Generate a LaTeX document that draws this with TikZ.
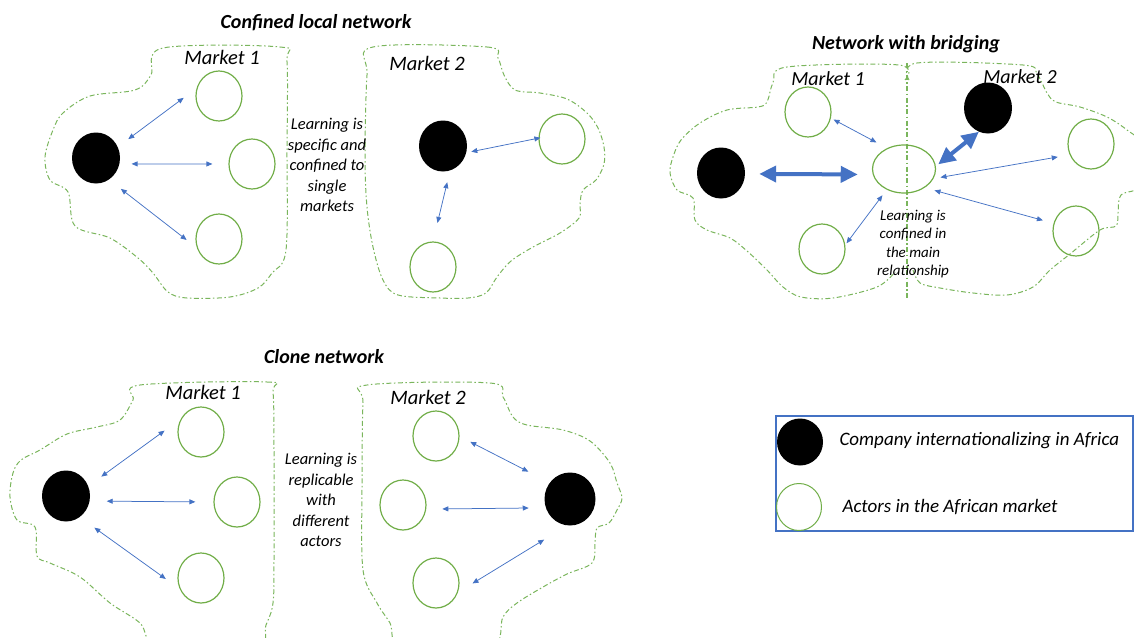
\documentclass[tikz,border=0pt]{standalone}
\usepackage{fontspec}
\setmainfont{Carlito}
\usepackage{tikz}
\usetikzlibrary{arrows.meta}
\usetikzlibrary{shapes.geometric}

\definecolor{actorgreen}{HTML}{70AD47}
\definecolor{marketgreen}{HTML}{7AB55C}
\definecolor{linkblue}{HTML}{4472C4}

\begin{document}
\begin{tikzpicture}[x=1pt, y=-1pt,
        >={Triangle[length=6pt,width=5pt]},
        company/.style={ellipse, fill=black, inner sep=0pt, minimum width=48pt, minimum height=51pt},
        actor/.style={ellipse, draw=actorgreen, line width=1.2pt, inner sep=0pt, minimum width=46pt, minimum height=50pt},
        link/.style={<->, draw=linkblue, line width=0.75pt},
        strong link/.style={{Triangle[length=17pt,width=16pt]}-{Triangle[length=17pt,width=16pt]}, draw=linkblue, line width=4pt},
        market/.style={draw=marketgreen, line width=1pt, dash pattern=on 5pt off 2.5pt on 1.5pt off 2.5pt},
        heading/.style={font=\fontsize{20}{24}\selectfont\bfseries\itshape},
        marketname/.style={font=\fontsize{20.5}{24}\selectfont\itshape},
        remark/.style={align=center, font=\fontsize{16.5}{20.5}\selectfont\itshape},
        legendtext/.style={anchor=west, font=\fontsize{19}{22}\selectfont\itshape}]

  \useasboundingbox (0,0) rectangle (1134,637);

  % confined local network
  \node[heading] (t_conf) at (316,23) {Confined local network};
  \draw[market] plot[smooth cycle, tension=0.55] coordinates {(163,48) (280,47) (287,62) (287,150) (286,250) (272,273) (258,288) (230,297) (187,298) (168,292) (153,273) (138,258) (110,238) (75,226) (68,192) (50,180) (45,157) (53,130) (63,113) (90,96) (135,90) (151,75)};
  \draw[market] plot[smooth cycle, tension=0.55] coordinates {(373,47) (487,47) (498,58) (504,75) (515,90) (540,93) (567,99) (587,113) (598,128) (604,147) (604,164) (596,180) (583,190) (580,204) (579,218) (560,233) (533,247) (511,261) (497,277) (486,293) (468,298) (440,298) (398,295) (383,280) (373,247) (367,207) (365,157) (367,75)};
  \node[marketname] (m_conf1) at (222,57) {Market 1};
  \node[marketname] (m_conf2) at (427,63) {Market 2};

  \node[company] (ca) at (96,158) {};
  \node[actor] (ca1) at (219,96) {};
  \node[actor] (ca2) at (252,164) {};
  \node[actor] (ca3) at (219,239) {};
  \node[company] (cb) at (443,146) {};
  \node[actor] (cb1) at (562,139) {};
  \node[actor] (cb2) at (433,267) {};

  \path
  (ca.27) edge[link, shorten <=13pt, shorten >=16pt] (ca1.161)
  (ca.-14) edge[link, shorten <=12pt, shorten >=16pt] (ca2.west)
  (ca.-59) edge[link, shorten <=15pt, shorten >=13pt] (ca3.-158)
  (cb.-16) edge[link, shorten <=5pt, shorten >=-2pt] (cb1.178)
  (cb.-74) edge[link, shorten <=12pt, shorten >=19pt] (cb2.north);

  \node[remark] (r_conf) at (327,165) {Learning is\\specific and\\confined to\\single\\markets};

  % network with bridging
  \node[heading] (t_brid) at (906,44) {Network with bridging};
  \draw[market] plot[smooth, tension=0.55] coordinates {(905,80) (899,65) (787,67) (773,83) (767,102) (758,107) (727,110) (700,123) (681,140) (673,157) (670,173) (677,190) (693,198) (695,220) (707,230) (730,238) (747,251) (767,270) (783,287) (801,297) (833,298) (877,287) (895,272)};
  \draw[market] plot[smooth, tension=0.55] coordinates {(909,80) (917,63) (1023,65) (1037,74) (1047,93) (1056,102) (1080,107) (1107,117) (1127,130) (1142,145) (1142,185) (1121,195) (1118,213) (1116,226) (1100,230) (1070,254) (1050,270) (1033,287) (1007,295) (973,293) (940,288) (920,283) (913,270)};
  \draw[market, line width=1.5pt] (907,63) -- (907,298);
  \node[marketname, font=\fontsize{20}{24}\selectfont\itshape] (m_brid1) at (828,79) {Market 1};
  \node[marketname, font=\fontsize{20}{24}\selectfont\itshape] (m_brid2) at (1020,77) {Market 2};

  \node[company] (bc1) at (721,173) {};
  \node[company] (bc2) at (988,108) {};
  \node[actor, minimum width=63pt, minimum height=48pt] (bm) at (904,169) {};
  \node[actor] (ba1) at (808,112) {};
  \node[actor] (ba2) at (822,249) {};
  \node[actor] (ba3) at (1091,144) {};
  \node[actor] (ba4) at (1076,231) {};

  \path
  (bc1.-2) edge[strong link, shorten <=14pt, shorten >=15pt] (bm.190)
  (bm.5) edge[strong link, shorten <=3pt] (bc2.-111)
  (ba1.-15) edge[link, shorten <=3pt, shorten >=12pt] (bm.129)
  (ba2.10) edge[link, shorten <=2pt, shorten >=7pt] (bm.-130)
  (bm.-18) edge[link, shorten <=7pt, shorten >=12pt] (ba3.-153)
  (bm.-42) edge[link, shorten <=10pt, shorten >=11pt] (ba4.161);

  \node[remark, font=\fontsize{15}{18.3}\selectfont\itshape] (r_brid) at (913,244) {Learning is\\confined in\\the main\\relationship};

  % clone network
  \node[heading] (t_clone) at (324,357) {Clone network};
  \draw[market] plot[smooth cycle, tension=0.55] coordinates {(140,385) (267,382) (273,392) (274,450) (274,560) (273,603) (266,625) (255,648) (160,648) (140,623) (110,603) (80,577) (50,563) (37,556) (35,527) (17,520) (10,497) (13,473) (21,460) (40,450) (67,434) (97,427) (120,420) (133,400)};
  \draw[market] plot[smooth cycle, tension=0.55] coordinates {(367,385) (490,383) (503,397) (513,417) (527,425) (563,430) (590,441) (610,463) (617,483) (622,498) (617,510) (609,523) (597,528) (595,543) (592,563) (567,574) (543,587) (517,603) (503,617) (490,648) (403,648) (390,623) (377,603) (363,570) (362,487) (363,403)};
  \node[marketname] (m_clone1) at (203,392) {Market 1};
  \node[marketname] (m_clone2) at (428,397) {Market 2};

  \node[company] (na) at (66,496) {};
  \node[actor] (na1) at (201,432) {};
  \node[actor] (na2) at (237,502) {};
  \node[actor] (na3) at (201,578) {};
  \node[company, minimum width=51pt, minimum height=53pt] (nb) at (570,499) {};
  \node[actor] (nb1) at (436,436) {};
  \node[actor] (nb2) at (403,505) {};
  \node[actor] (nb3) at (436,583) {};

  \path
  (na.24) edge[link, shorten <=16pt, shorten >=20pt] (na1.147)
  (na.-12) edge[link, shorten <=17pt, shorten >=18pt] (na2.west)
  (na.-57) edge[link, shorten <=18pt, shorten >=17pt] (na3.-153)
  (nb1.-1) edge[link, shorten <=12pt, shorten >=24pt] (nb.141)
  (nb2.-10) edge[link, shorten <=16pt, shorten >=17pt] (nb.200)
  (nb3.-23) edge[link, shorten <=17pt, shorten >=27pt] (nb.-96);

  \node[remark] (r_clone) at (321,500) {Learning is\\replicable\\with\\different\\actors};

  % legend
  \draw[linkblue, line width=1.4pt] (776,416) rectangle (1133,531);
  \node[company, minimum width=46pt, minimum height=47pt] (lc) at (800,442) {};
  \node[actor, minimum width=45pt, minimum height=47pt, line width=1pt] (la) at (799,507) {};
  \node[legendtext] (lc_text) at (836,441) {Company internationalizing in Africa};
  \node[legendtext] (la_text) at (839,507) {Actors in the African market};
\end{tikzpicture}
\end{document}
